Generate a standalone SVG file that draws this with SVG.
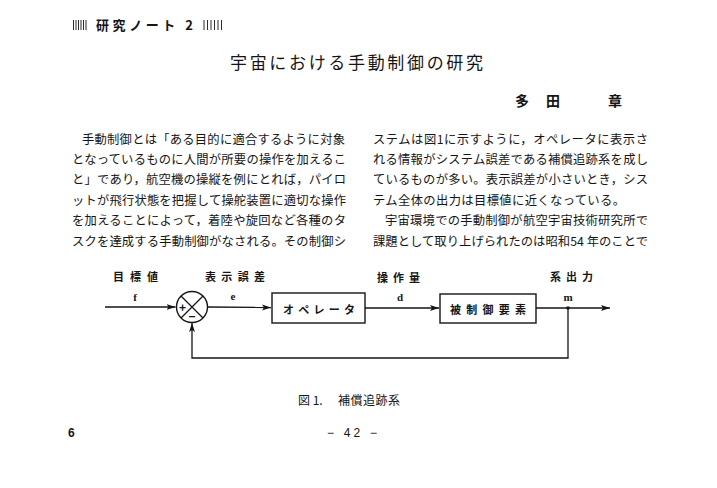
<svg xmlns="http://www.w3.org/2000/svg" width="717" height="488" viewBox="0 0 717 488">
<style>
.jp{font-family:"Noto Sans CJK JP","Noto Sans CJK SC",sans-serif;fill:#151515}
.body{font-size:12.3px}
.lab{font-size:11px;font-weight:bold}
.var{font-family:"Liberation Serif",serif;font-size:11px;font-weight:bold;fill:#151515}
.ln{fill:none;stroke:#151515;stroke-width:1.3}
.box{fill:#fff;stroke:#151515;stroke-width:1.4}
.bar{stroke:#151515;stroke-width:0.9}
</style>
<defs>
<marker id="ah" markerUnits="userSpaceOnUse" markerWidth="10" markerHeight="7" refX="9" refY="3.5" orient="auto">
<path d="M0,0.5 L9,3.5 L0,6.5 L2,3.5 z" fill="#151515"/>
</marker>
</defs>
<rect width="717" height="488" fill="#fff"/>

<g id="header">
<g class="bar">
<line x1="73.5" y1="20" x2="73.5" y2="30"/><line x1="76" y1="20" x2="76" y2="30"/><line x1="78.5" y1="20" x2="78.5" y2="30"/><line x1="81" y1="20" x2="81" y2="30"/><line x1="83.5" y1="20" x2="83.5" y2="30"/><line x1="86" y1="20" x2="86" y2="30"/>
<line x1="204" y1="20" x2="204" y2="30"/><line x1="207.5" y1="20" x2="207.5" y2="30"/><line x1="211" y1="20" x2="211" y2="30"/><line x1="214.5" y1="20" x2="214.5" y2="30"/><line x1="218" y1="20" x2="218" y2="30"/><line x1="221.5" y1="20" x2="221.5" y2="30"/>
</g>
<text class="jp" x="96" y="30" font-size="13" font-weight="bold" textLength="97" lengthAdjust="spacing">研究ノート 2</text>
</g>

<text id="title" class="jp" x="230" y="68.5" font-size="17" textLength="253" lengthAdjust="spacing">宇宙における手動制御の研究</text>
<text id="author" class="jp" y="106" font-size="14" font-weight="bold"><tspan x="515">多</tspan><tspan x="546">田</tspan><tspan x="608">章</tspan></text>

<g id="body-left" class="jp body">
<text x="82" y="143.5" textLength="263" lengthAdjust="spacing">手動制御とは「ある目的に適合するように対象</text>
<text x="72" y="163.5" textLength="274" lengthAdjust="spacing">となっているものに人間が所要の操作を加えるこ</text>
<text x="72" y="184" textLength="274" lengthAdjust="spacing">と」であり，航空機の操縦を例にとれば，パイロ</text>
<text x="72" y="204.5" textLength="274" lengthAdjust="spacing">ットが飛行状態を把握して操舵装置に適切な操作</text>
<text x="72" y="225" textLength="274" lengthAdjust="spacing">を加えることによって，着陸や旋回など各種のタ</text>
<text x="72" y="245.5" textLength="274" lengthAdjust="spacing">スクを達成する手動制御がなされる。その制御シ</text>
</g>
<g id="body-right" class="jp body">
<text x="373" y="143.5" textLength="275" lengthAdjust="spacing">ステムは図1に示すように，オペレータに表示さ</text>
<text x="373" y="163.5" textLength="275" lengthAdjust="spacing">れる情報がシステム誤差である補償追跡系を成し</text>
<text x="373" y="184" textLength="275" lengthAdjust="spacing">ているものが多い。表示誤差が小さいとき，シス</text>
<text x="373" y="204.5" textLength="252" lengthAdjust="spacing">テム全体の出力は目標値に近くなっている。</text>
<text x="385" y="225" textLength="263" lengthAdjust="spacing">宇宙環境での手動制御が航空宇宙技術研究所で</text>
<text x="373" y="245.5" textLength="275" lengthAdjust="spacing">課題として取り上げられたのは昭和54 年のことで</text>
</g>

<g id="connectors">
<path class="ln" d="M105,307 L175.5,307" marker-end="url(#ah)"/>
<path class="ln" d="M207.5,307 L271,307.5" marker-end="url(#ah)"/>
<path class="ln" d="M365,308 L439,308" marker-end="url(#ah)"/>
<path class="ln" d="M536,308 L610,308" marker-end="url(#ah)"/>
<path class="ln" d="M568,308 L568,358 L192,358 L192,323" marker-end="url(#ah)"/>
<circle cx="568" cy="308" r="1.8" fill="#151515"/>
</g>

<g id="sum">
<circle class="box" cx="192" cy="307" r="15.5"/>
<path class="ln" d="M181,296 L203,318 M203,296 L181,318"/>
<text class="jp" x="182.5" y="311.5" font-size="12" font-weight="bold" text-anchor="middle">+</text>
<text class="jp" x="192" y="321" font-size="12" font-weight="bold" text-anchor="middle">−</text>
</g>
<g id="operator">
<rect class="box" x="272" y="293" width="93" height="30"/>
<text class="jp lab" x="283" y="314" textLength="72" lengthAdjust="spacing">オペレータ</text>
</g>
<g id="plant">
<rect class="box" x="440" y="294" width="96" height="29"/>
<text class="jp lab" x="450" y="314" textLength="76" lengthAdjust="spacing">被制御要素</text>
</g>

<g id="labels">
<text class="jp lab" x="113" y="281" textLength="45" lengthAdjust="spacing">目標値</text>
<text class="jp lab" x="205" y="281" textLength="60" lengthAdjust="spacing">表示誤差</text>
<text class="jp lab" x="377" y="282" textLength="43" lengthAdjust="spacing">操作量</text>
<text class="jp lab" x="550" y="281" textLength="43" lengthAdjust="spacing">系出力</text>
<text class="var" x="135" y="301" text-anchor="middle">f</text>
<text class="var" x="233" y="300" text-anchor="middle">e</text>
<text class="var" x="400" y="301" text-anchor="middle">d</text>
<text class="var" x="568" y="301" text-anchor="middle">m</text>
</g>

<text id="caption" class="jp" y="404.5" font-size="12"><tspan x="298">図 1.</tspan><tspan x="338" textLength="62" lengthAdjust="spacing">補償追跡系</tspan></text>
<g id="footer" font-family="Liberation Sans, sans-serif" font-size="12" fill="#151515">
<text x="68" y="437" font-weight="bold">6</text>
<text x="327" y="437" textLength="50" lengthAdjust="spacing">− 42 −</text>
</g>
</svg>
